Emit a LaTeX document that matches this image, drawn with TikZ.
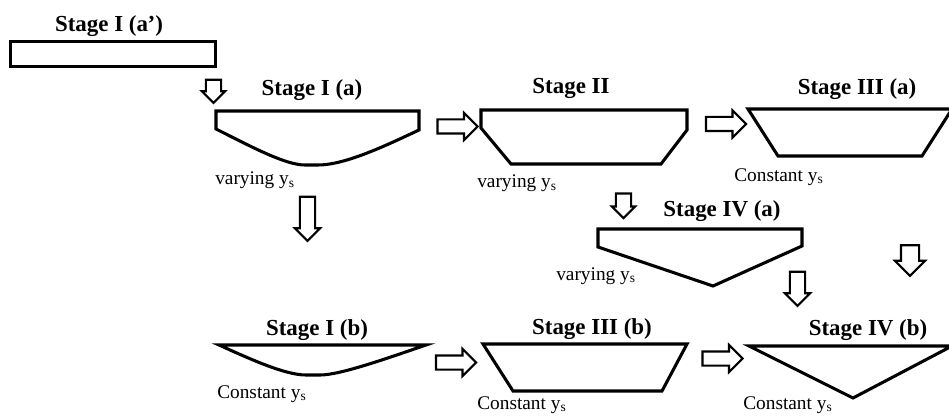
\documentclass[tikz,border=0pt]{standalone}
\usepackage{fontspec}
\setmainfont{Liberation Serif}
\usetikzlibrary{shapes.arrows}
\begin{document}
\begin{tikzpicture}[x=0.75pt,y=-0.75pt,
  sect/.style={draw=black,line width=2.3pt,line join=miter},
  title/.style={font=\bfseries\fontsize{17.2}{20}\selectfont,inner sep=0pt,anchor=base},
  note/.style={font=\fontsize{14.5}{16}\selectfont,inner sep=0pt,anchor=base west},
  barrow/.style={single arrow,draw=black,line width=1.6pt,fill=white,inner xsep=0pt,
    minimum width=0pt,single arrow tip angle=90},
  rarrow/.style={barrow,minimum height=30pt,inner ysep=4.5pt,single arrow head extend=4.9pt},
  darrow/.style={barrow,rotate=-90,inner ysep=4.9pt,single arrow head extend=3.6pt},
]
\useasboundingbox (0,0) rectangle (949,417);

% sections
\draw[sect] (10.5,41.5) rectangle (215.5,66.5);
\draw[sect] (216,111) -- (419,111) -- (419,130)
  .. controls (385,146) and (345,165) .. (318,165) -- (305,165)
  .. controls (285,165) and (250,146) .. (216,129) -- cycle;
\draw[sect] (481,110) -- (687,110) -- (687,130) -- (661,164) -- (511,164) -- (481,128) -- cycle;
\draw[sect] (748,109) -- (952,109) -- (922,156) -- (778,156) -- cycle;
\draw[sect] (598,229) -- (802,229) -- (802,246) -- (713,286) -- (598,247) -- cycle;
\draw[sect] (219,345) -- (426,345)
  .. controls (385,359) and (340,375) .. (320,375) -- (306,375)
  .. controls (285,375) and (250,359) .. cycle;
\draw[sect] (483,344) -- (687,344) -- (662,391) -- (513,391) -- cycle;
\draw[sect] (749,346) -- (952,346) -- (853,398) -- cycle;

% titles
\node[title] (tIap) at (109,32) {Stage I (a\kern-0.02em’)};
\node[title] (tIa)  at (312,96) {Stage I (a)};
\node[title] (tII)  at (571,94) {Stage II};
\node[title] (tIIIa) at (857,95) {Stage III (a)};
\node[title] (tIVa) at (722,216) {Stage IV (a)};
\node[title] (tIb)  at (317,335) {Stage I (b)};
\node[title] (tIIIb) at (592,334) {Stage III (b)};
\node[title] (tIVb) at (868,335) {Stage IV (b)};

% notes
\node[note] (nIa)  at (215,185) {varying y\textsubscript{s}};
\node[note] (nII)  at (477,188) {varying y\textsubscript{s}};
\node[note] (nIIIa) at (734,181) {Constant y\textsubscript{s}};
\node[note] (nIVa) at (556,280) {varying y\textsubscript{s}};
\node[note] (nIb)  at (217,398) {Constant y\textsubscript{s}};
\node[note] (nIIIb) at (477,409) {Constant y\textsubscript{s}};
\node[note] (nIVb) at (743,409) {Constant y\textsubscript{s}};

% block arrows
\node[rarrow] (aA) at (454,126.5) {};
\node[rarrow] (aB) at (722.5,124) {};
\node[rarrow] (aC) at (452.5,362.5) {};
\node[rarrow] (aD) at (719,358.5) {};
\node[darrow,minimum height=17.25pt,single arrow head extend=3pt] (aE) at (213.5,87.5) {};
\node[darrow,minimum height=33pt,single arrow head extend=3.75pt] (aF) at (307.5,215) {};
\node[darrow,minimum height=18.5pt,single arrow head extend=3pt] (aG) at (623.5,202) {};
\node[darrow,minimum height=25.5pt,single arrow head extend=3.75pt] (aH) at (797.5,285) {};
\node[darrow,minimum height=23pt,inner ysep=6pt,single arrow head extend=4.5pt] (aI) at (910,256) {};
\end{tikzpicture}
\end{document}
